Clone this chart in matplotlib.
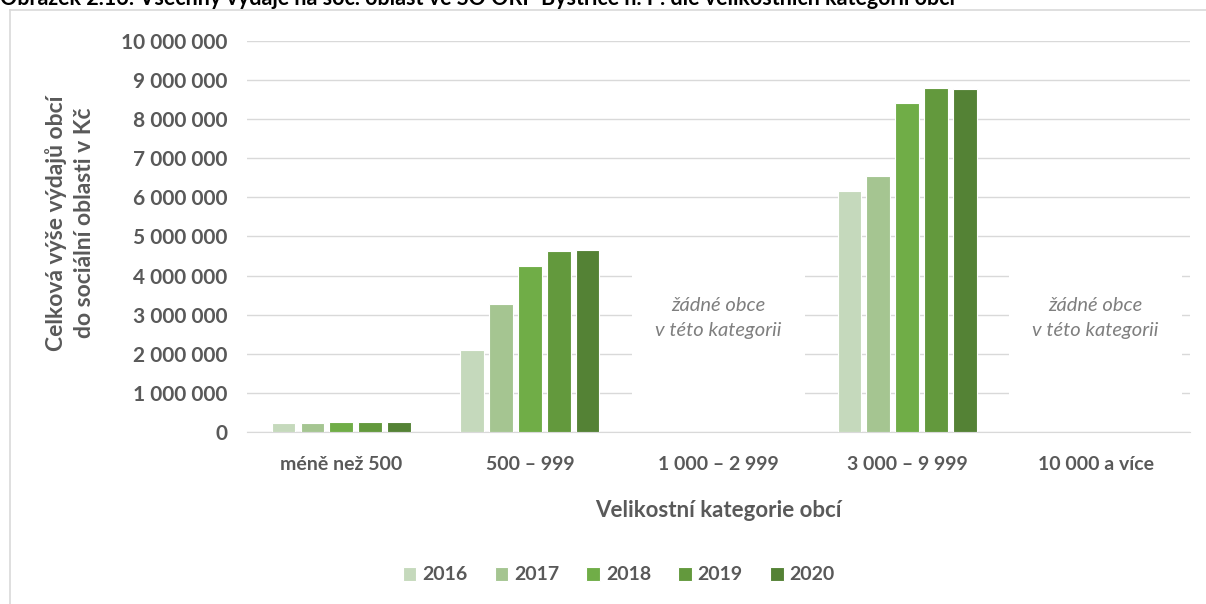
import numpy as np
import matplotlib
matplotlib.use('Agg')
import matplotlib.pyplot as plt
from matplotlib.patches import Rectangle
from matplotlib.lines import Line2D
from matplotlib.ticker import FuncFormatter

plt.rcParams['font.family'] = ['Lato', 'DejaVu Sans']

# data
kategorie = ['méně než 500', '500 – 999', '1 000 – 2 999', '3 000 – 9 999', '10 000 a více']
roky = ['2016', '2017', '2018', '2019', '2020']
v2016 = [220000, 2090000, 0, 6170000, 0]
v2017 = [220000, 3270000, 0, 6560000, 0]
v2018 = [255000, 4250000, 0, 8410000, 0]
v2019 = [250000, 4620000, 0, 8790000, 0]
v2020 = [250000, 4650000, 0, 8760000, 0]
prazdne = [2, 4]  # kategorie bez obcí
barvy = ['#C5D9BC', '#A5C591', '#70AD47', '#63993D', '#548235']

seda = '#595959'
fig = plt.figure(figsize=(12.06, 6.04), dpi=100)
ax = fig.add_axes([0.2048, 0.2848, 0.9867 - 0.2048, 0.9321 - 0.2848])

x = np.arange(len(kategorie))
sirka = 0.125
krok = 0.153
serie = [v2016, v2017, v2018, v2019, v2020]
for i, (hodnoty, rok, barva) in enumerate(zip(serie, roky, barvy)):
    pozice = x + (i - 2) * krok
    ax.bar(pozice, hodnoty, width=sirka, color=barva, edgecolor='white',
           linewidth=0.8, label=rok, zorder=3)

ax.set_xlim(-0.5, len(kategorie) - 0.5)
ax.set_ylim(0, 10000000)
ax.set_yticks(np.arange(0, 10000001, 1000000))
ax.yaxis.set_major_formatter(FuncFormatter(lambda v, p: f'{int(v):,}'.replace(',', ' ')))
ax.grid(axis='y', color='#D9D9D9', linewidth=1, zorder=0)
ax.set_axisbelow(True)
for s in ['top', 'right', 'left']:
    ax.spines[s].set_visible(False)
ax.spines['bottom'].set_color('#D9D9D9')
ax.tick_params(length=0)
ax.tick_params(axis='y', pad=14)
ax.tick_params(axis='x', pad=17)
ax.set_xticks(x)
ax.set_xticklabels(kategorie)
for t in ax.get_xticklabels():
    t.set_fontweight('bold')
    t.set_fontsize(14)
    t.set_color(seda)
for t in ax.get_yticklabels():
    t.set_fontweight('bold')
    t.set_fontsize(15)
    t.set_color(seda)

# popisky prázdných kategorií
for k in prazdne:
    ax.add_patch(Rectangle((k - 0.46, 500000), 0.92, 3530000, facecolor='white',
                           edgecolor='none', zorder=2))
    ax.text(k, 2920000, 'žádné obce\nv této kategorii', ha='center', va='center',
            fontsize=14.5, style='italic', color='#7F7F7F', linespacing=1.6, zorder=4)

ax.set_xlabel('Velikostní kategorie obcí', fontsize=16, fontweight='bold',
              color=seda, labelpad=20)
ax.set_ylabel('Celková výše výdajů obcí\ndo sociální oblasti v Kč', fontsize=16.5,
              fontweight='bold', color=seda, linespacing=1.45, va='center')
ax.yaxis.set_label_coords(-0.1877, 0.535)

leg = ax.legend(loc='center', bbox_to_anchor=(0.513, 1 - 575 / 604), bbox_transform=fig.transFigure,
                ncol=5, frameon=False, fontsize=14, handlelength=0.7, handleheight=0.7,
                handletextpad=0.3, columnspacing=1.4)
for t in leg.get_texts():
    t.set_fontweight('bold')
    t.set_color(seda)

# rámeček grafu
fig.add_artist(Line2D([10 / 1206, 10 / 1206], [0, 1 - 10 / 604], color='#D9D9D9', lw=1.2))
fig.add_artist(Line2D([10 / 1206, 1], [1 - 10 / 604, 1 - 10 / 604], color='#D9D9D9', lw=1.2))

fig.text(0.0, 1 - 5 / 604, 'Obrázek 2.16: Všechny výdaje na soc. oblast ve SO ORP Bystřice n. P. dle velikostních kategorií obcí',
         fontsize=15.5, fontweight='bold', color='black', va='baseline', ha='left')

fig.savefig('out.png', dpi=100)
